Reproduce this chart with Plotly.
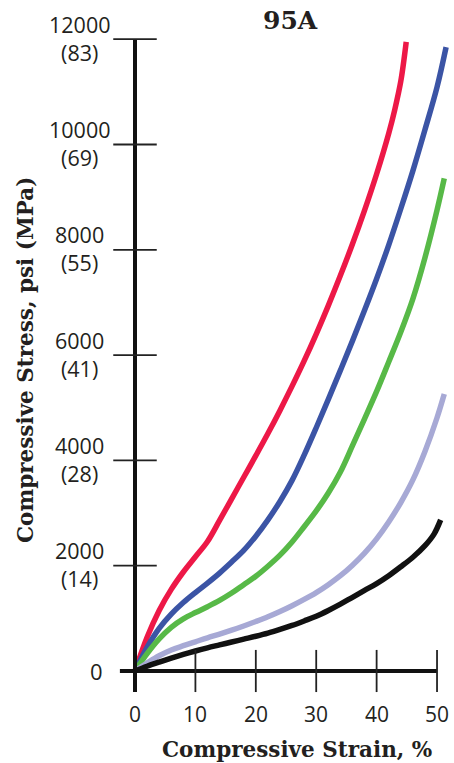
import plotly.graph_objects as go

# Compressive stress-strain curves, 95A durometer
red_x = [0, 2, 4, 6, 8, 10, 12, 14, 16, 18, 20, 22, 24, 26, 28, 30, 32, 34, 36, 38, 40, 42, 43, 44, 44.9]
red_y = [0, 640, 1150, 1550, 1880, 2170, 2460, 2860, 3270, 3680, 4090, 4510, 4950, 5410, 5890, 6400,
         6940, 7510, 8110, 8750, 9440, 10210, 10660, 11200, 11950]

blue_x = [0, 2, 4, 6, 8, 10, 12, 14, 16, 18, 20, 22, 24, 26, 28, 30, 32, 34, 36, 38, 40, 42, 44, 46, 48, 50, 51.5]
blue_y = [0, 450, 810, 1080, 1300, 1490, 1670, 1860, 2070, 2290, 2560, 2870, 3220, 3620, 4100, 4620,
          5160, 5710, 6270, 6850, 7450, 8090, 8780, 9500, 10280, 11090, 11850]

green_x = [0, 2, 4, 6, 8, 10, 12, 14, 16, 18, 20, 22, 24, 26, 28, 30, 32, 34, 36, 38, 40, 42, 44, 46, 48, 50, 51.2]
green_y = [0, 330, 610, 830, 990, 1110, 1220, 1340, 1480, 1640, 1800, 1990, 2200, 2450, 2740, 3040,
           3380, 3780, 4280, 4790, 5310, 5870, 6440, 7070, 7850, 8754, 9356]

lav_x = [0, 2, 4, 6, 8, 10, 12, 14, 16, 18, 20, 22, 24, 26, 28, 30, 32, 34, 36, 38, 40, 42, 44, 46, 48, 50, 51.2]
lav_y = [0, 150, 290, 400, 480, 555, 630, 700, 775, 855, 940, 1030, 1130, 1240, 1360, 1490,
         1640, 1810, 2010, 2240, 2510, 2830, 3200, 3630, 4170, 4810, 5260]

black_x = [0, 2, 4, 6, 8, 10, 12, 14, 16, 18, 20, 22, 24, 26, 28, 30, 32, 34, 36, 38, 40, 42, 44, 46, 48, 49.5, 50.6]
black_y = [0, 90, 170, 245, 315, 380, 440, 495, 550, 605, 660, 720, 790, 865, 950, 1040,
           1150, 1270, 1400, 1530, 1660, 1810, 1980, 2160, 2380, 2600, 2870]

x_ticks = [0, 10, 20, 30, 40, 50]
y_ticks_psi = [2000, 4000, 6000, 8000, 10000, 12000]
y_ticks_mpa = [14, 28, 41, 55, 69, 83]

TXT = "#231F20"
LABEL_FONT = "Open Sans"
TITLE_FONT = "DejaVu Serif"

X_RANGE = [-5.795, 52.81]
Y_RANGE = [-551, 12175]

fig = go.Figure()

series = [
    (red_x, red_y, "#ED1847"),
    (blue_x, blue_y, "#3B54A5"),
    (green_x, green_y, "#57B947"),
    (lav_x, lav_y, "#A7A9D5"),
    (black_x, black_y, "#111111"),
]
for xs, ys, col in series:
    fig.add_trace(go.Scatter(
        x=xs, y=ys, mode="lines",
        line=dict(color=col, width=5.5, shape="spline", smoothing=1.0),
        hoverinfo="skip", showlegend=False,
    ))

shapes = []
# axis lines
shapes.append(dict(type="line", xref="x", yref="y", x0=0, x1=0, y0=-400, y1=12000,
                   line=dict(color="#111111", width=4)))
shapes.append(dict(type="line", xref="x", yref="y", x0=-2.5, x1=50, y0=0, y1=0,
                   line=dict(color="#111111", width=4)))
# y tick marks crossing the axis
for v in y_ticks_psi:
    shapes.append(dict(type="line", xref="x", yref="y", x0=-3.6, x1=3.6, y0=v, y1=v,
                       line=dict(color="#222222", width=1.8)))
# x tick marks crossing the axis
for v in x_ticks[1:]:
    shapes.append(dict(type="line", xref="x", yref="y", x0=v, x1=v, y0=-400, y1=400,
                       line=dict(color="#222222", width=1.8)))

annotations = []
# two-line y tick labels: psi above, MPa below
for psi, mpa in zip(y_ticks_psi, y_ticks_mpa):
    annotations.append(dict(
        x=-0.0565, y=psi, xref="paper", yref="y", text=f"{psi}<br>({mpa})", yshift=1,
        showarrow=False, xanchor="center", yanchor="middle", align="center",
        font=dict(family=LABEL_FONT, size=21.5, color=TXT),
    ))
annotations.append(dict(
    x=0.014, y=0, xref="paper", yref="y", text="0", showarrow=False,
    xanchor="right", yanchor="middle",
    font=dict(family=LABEL_FONT, size=22, color=TXT),
))
for v in x_ticks:
    annotations.append(dict(
        x=v, y=-0.021, xref="x", yref="paper", text=str(v), showarrow=False,
        xanchor="center", yanchor="middle",
        font=dict(family=LABEL_FONT, size=21, color=TXT),
    ))
# axis titles and chart title
annotations.append(dict(
    x=0.5565, y=-0.0746, xref="paper", yref="paper", text="<b>Compressive Strain, %</b>",
    showarrow=False, xanchor="center", yanchor="middle",
    font=dict(family=TITLE_FONT, size=21.5, color=TXT),
))
annotations.append(dict(
    x=-0.209, y=0.5075, xref="paper", yref="paper", text="<b>Compressive Stress, psi (MPa)</b>",
    showarrow=False, xanchor="center", yanchor="middle", textangle=-90,
    font=dict(family=TITLE_FONT, size=21.5, color=TXT),
))
annotations.append(dict(
    x=0.538, y=1.0149, xref="paper", yref="paper", text="<b>95A</b>",
    showarrow=False, xanchor="center", yanchor="middle",
    font=dict(family=TITLE_FONT, size=25, color=TXT),
))

fig.update_layout(
    width=454, height=763,
    margin=dict(l=100, r=0, t=30, b=63),
    paper_bgcolor="white", plot_bgcolor="white",
    xaxis=dict(range=X_RANGE, visible=False, fixedrange=True),
    yaxis=dict(range=Y_RANGE, visible=False, fixedrange=True),
    shapes=shapes, annotations=annotations,
    showlegend=False,
)

fig.write_html("out.html", config={"displayModeBar": False})
